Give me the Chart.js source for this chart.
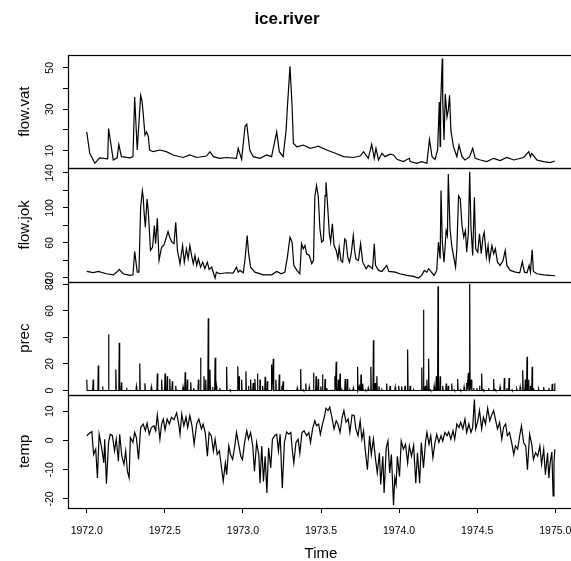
<!DOCTYPE html>
<html>
<head>
<meta charset="utf-8">
<script src="https://cdn.jsdelivr.net/npm/chart.js@4.4.1/dist/chart.umd.min.js"></script>
<style>
  html, body { margin: 0; padding: 0; background: #fff; overflow: hidden; }
  #wrap { width: 584px; height: 561px; }
</style>
</head>
<body>
<div id="wrap"><canvas id="ice" width="584" height="561"></canvas></div>
<script>
// ice.river, daily values 1972-1974. Day 0 = 1 Jan 1972.
const vatDay = [0,7,19,30,49,51,62,71,75,81,101,108,112,118,126,129,132,136,140,144,147,155,171,186,202,225,241,257,280,288,296,311,327,350,354,362,370,374,381,389,405,420,432,444,450,459,466,469,475,480,483,491,506,522,537,541,561,584,600,623,639,647,658,666,672,676,682,690,697,709,717,725,740,754,756,771,783,795,801,807,814,820,824,826,827,831,832,835,838,842,845,848,851,857,865,870,877,884,895,902,908,920,935,951,966,982,998,1021,1033,1037,1040,1052,1068,1083,1094];
const vatVal = [19.1,8.7,3.9,6.5,6.0,20.7,5.5,6.5,13.0,7.1,6.5,7.1,35.9,10.3,36.7,34.3,27.9,17.5,19.1,16.7,10.3,9.5,10.3,9.5,7.9,6.7,7.9,6.7,7.4,9.5,7.1,6.3,6.7,6.3,11.1,5.8,21.8,22.8,10.3,7.1,6.3,7.9,7.1,19.1,9.5,7.1,20.0,31.1,50.7,31.1,13.5,11.9,12.7,11.1,11.9,12.2,10.3,8.5,7.1,6.7,7.4,9.5,6.3,13.0,6.3,11.1,5.5,8.7,7.1,8.3,7.9,5.8,4.7,6.3,4.7,3.9,4.7,3.9,15.4,7.1,5.8,10.3,33.5,12.0,32.7,54.5,34.3,15.1,37.5,26.3,29.5,36.7,19.9,11.9,7.1,12.7,7.1,5.5,7.1,11.1,6.3,5.5,4.7,6.3,5.2,6.7,5.5,6.7,9.5,7.1,8.7,5.5,4.7,4.2,5.0];

const jokDay = [0,15,27,46,62,69,76,85,101,108,112,118,122,126,130,132,134,137,141,144,149,154,158,161,165,169,175,180,185,190,194,199,204,208,212,218,224,228,233,237,241,245,249,253,257,261,266,271,276,282,286,292,296,300,303,311,327,342,350,354,358,366,370,375,378,383,393,413,432,444,455,463,469,475,480,484,491,498,502,506,510,514,520,526,530,533,537,541,545,549,553,557,559,562,567,570,574,578,583,587,590,594,598,603,606,610,614,618,623,626,629,635,640,645,649,653,658,664,668,672,675,682,690,701,706,721,732,748,764,775,783,789,795,799,804,812,818,822,826,828,831,835,840,843,845,849,853,857,862,865,869,873,877,881,885,888,892,895,898,902,906,909,914,918,922,926,929,934,938,941,947,951,955,960,966,973,978,982,990,1002,1012,1018,1023,1029,1034,1037,1041,1044,1052,1068,1083,1094];
const jokVal = [27.3,26,27.3,24.7,23.4,26,29.6,24.7,22.8,23.4,50.2,26.5,26.5,100.8,119.8,112.2,95,77.9,110.3,95,51.3,55.1,79.9,59,88.2,39.9,55.1,57,64.7,73,66.5,60.8,59,83.6,51.3,36.1,57,37.9,53.2,41.8,57,45.6,36.1,45.6,34.2,41.8,32.2,37.9,30.4,37.9,29.6,32.2,25.8,19.7,26.5,24.7,25.8,25.4,32.2,26.5,28.5,25.8,41.8,68.4,49.4,32.2,26.5,23.4,23.4,27.3,24.7,26.5,43.7,66.5,60.8,34.2,28.5,24.7,59,53.2,57,47.5,45.6,36.1,40,112.2,125.5,114,76.1,60.8,62.7,114,129.3,110.3,70.4,60.8,81.8,57,51.3,41.8,55.1,39.9,37.9,64.7,62.7,43.7,37.9,47.5,68.4,51.3,41.8,39.9,59,37.9,34.2,30.4,34.2,32.2,30.4,59,34.2,28.5,27.3,34.2,27.3,26.5,24.7,22.8,21.6,19.7,22.8,28.5,26.5,30.4,27.3,22.8,28.5,60.8,41.8,119.8,60.8,37.9,74.1,68.4,138.9,76.1,57,45.6,32.2,53.2,114,110.3,79.9,66.5,74.1,49.4,72.2,141.5,77.9,45.6,112.2,53.2,49.4,70.4,47.5,66.5,72.2,43.7,57,39.9,57,47.5,53.2,37.9,34.2,39.9,51.3,34.2,28.5,26.5,25.8,38.6,26.5,25.8,34.2,26.5,52.1,27.3,24.7,23.4,22.8,22.5];

// rain days only; days not listed had no rain (0)
const precDay = [0,15,27,37,51,68,76,81,93,116,124,136,151,165,175,183,188,194,200,208,225,230,235,243,250,261,266,274,278,284,288,294,300,303,311,327,335,353,356,362,372,378,383,389,393,399,405,411,417,422,432,436,442,450,456,459,467,492,500,506,512,520,530,536,541,547,551,557,561,572,580,583,588,592,596,604,609,615,623,633,637,641,645,651,658,664,670,674,678,683,690,701,709,721,729,736,744,750,756,764,783,787,791,795,799,803,812,817,821,826,832,840,845,853,859,867,873,882,888,892,895,899,904,912,918,923,927,939,951,955,966,976,982,987,994,1005,1013,1019,1025,1029,1033,1037,1041,1044,1056,1068,1080,1088,1094];
const precVal = [8.2,8.2,18.9,3,42.4,15.8,36.1,6,2,3,20.4,5.5,2.6,12.8,8.2,12.8,10.7,8.7,6.9,3.6,2.6,13.8,8.2,6.2,1.9,8.2,24.7,10.7,8.2,54.4,15.8,2.6,24.7,3.6,1.9,17.9,0.6,18.3,10.7,8.2,14.5,3.6,8.2,5.7,8.7,12.8,8.2,3.6,10.3,6.9,19.6,23.9,8.2,12,3.6,6.9,0.6,1.9,16.3,0.6,5.2,2.6,13.3,10.7,8.7,3.1,12,8.7,1.9,0.6,10.7,21.7,8.2,12.8,0.6,8.7,8.7,0.6,1.9,17.9,3.1,12,5.2,0.6,1.9,17.9,37.9,5.7,10.7,3.1,0.6,5.2,3.6,2.6,3.6,3.1,3.6,31,3.6,0.6,17.4,60.9,3.6,8.2,23.9,0.6,3.1,10.7,78.7,10.7,3.6,5.2,3.6,5.2,0.6,8.7,0.6,2.6,5.7,13.3,80.5,8.2,1.9,1.9,3.6,12.8,0.6,1.9,8.7,0.6,2.6,9.5,1.9,9.5,0.6,1.1,2.6,15.3,8.2,25.5,8.2,3.6,17.9,1.9,1.1,2.6,1.9,5,5.5];

const tempDay = [0,7,12,16,21,25,29,34,40,42,46,51,55,60,65,69,74,77,82,87,91,95,99,102,108,112,116,121,126,132,137,141,146,151,157,161,165,171,175,179,183,188,193,198,204,210,215,218,222,227,232,236,241,246,251,257,262,268,272,277,282,286,291,296,300,305,310,314,319,324,327,332,336,341,346,350,355,360,364,369,374,378,383,388,392,397,402,405,409,413,417,421,425,430,434,439,444,448,452,457,462,467,472,477,481,484,489,494,498,503,508,514,519,523,528,533,537,542,546,551,556,559,564,568,573,578,583,587,592,597,601,606,611,615,620,625,629,634,639,643,647,651,656,661,665,670,675,679,684,687,692,695,700,704,708,712,717,720,723,726,731,735,740,745,750,754,759,764,769,773,778,782,787,792,795,800,804,809,814,818,823,828,832,837,842,846,851,856,860,865,870,874,879,884,888,893,898,902,906,909,914,918,923,927,932,937,942,946,951,955,960,965,970,974,979,983,988,993,998,1002,1007,1012,1016,1021,1026,1030,1035,1040,1044,1049,1054,1059,1063,1068,1072,1077,1080,1083,1087,1090,1092,1094];
const tempVal = [1.6,2.5,3.0,-4.8,-3.0,-12.8,2.1,-1.9,-7.7,0.4,-14.8,-0.7,2.1,1.6,-3.6,0.4,-7.1,2.1,-5.4,-8.2,-3.6,-10.5,-12.8,1.0,-0.7,2.7,1.0,-6.5,4.4,5.6,3.3,5.9,2.1,4.4,5.0,3.3,8.7,0.4,5.6,7.3,3.6,7.3,5.6,7.9,7.1,9.4,5.6,2.1,9.0,5.0,7.9,4.4,8.5,5.0,-1.3,5.6,7.3,3.9,5.6,2.7,-5.4,2.7,1.6,-3.6,0.4,-4.8,-3.6,-8.2,-14.0,-7.7,-11.7,-1.9,-4.8,-6.5,-1.9,2.7,-1.3,-5.4,-6.5,-0.7,3.3,0.4,2.7,-1.9,-10.5,-0.7,-4.8,-14.6,-1.9,-14.0,-5.4,-18.0,-2.5,-9.4,0.4,1.6,2.1,-3.6,2.1,-16.3,-0.7,2.9,2.1,2.7,-4.2,-7.7,-0.7,0.4,-4.4,2.7,3.3,1.6,2.7,-0.7,4.1,6.7,5.0,5.6,2.1,5.6,8.5,11.0,10.2,11.4,7.9,3.9,6.7,5.6,2.7,7.9,10.2,6.2,7.3,2.7,8.7,8.5,3.9,1.6,6.7,0.4,3.3,-3.6,-10.0,1.6,-4.8,0.4,-6.5,-11.1,-4.2,-15.1,-5.4,-18.0,-2.5,-0.2,-11.1,-4.8,-22.1,-12.8,-15.1,-5.4,-12.3,-0.2,-3.0,-1.3,-7.7,-1.9,-5.4,-1.7,-14.6,-4.2,-14.6,-0.7,-9.4,-0.2,2.7,-1.3,1.6,-5.9,-0.7,2.1,-0.7,1.6,-0.2,2.7,1.6,2.9,0.4,3.3,0.4,5.6,4.4,6.2,3.9,7.3,2.7,5.6,2.7,4.4,14.0,3.9,6.7,10.2,3.9,7.9,5.6,11.0,6.7,8.5,10.2,7.3,3.9,6.2,0.4,4.4,5.6,1.6,2.7,-0.7,-4.8,-1.9,-3.0,1.6,5.0,-0.7,-1.9,-10.0,2.1,-1.3,-6.5,-4.2,-5.4,-1.9,-8.2,-3.0,-11.7,-4.2,-12.8,-7.7,-4.0,-19.0,-8.0,-3.0];

// axis ticks
const xTicks = [1972, 1972.5, 1973, 1973.5, 1974, 1974.5, 1975];
const vatTicks = [10, 20, 30, 40, 50];
const vatLabels = ['10', '', '30', '', '50'];
const jokTicks = [20, 40, 60, 80, 100, 120, 140];
const jokLabels = ['20', '', '60', '', '100', '', '140'];
const precTicks = [0, 20, 40, 60, 80];
const precLabels = ['0', '20', '40', '60', '80'];
const tempTicks = [-20, -10, 0, 10];
const tempLabels = ['-20', '-10', '0', '10'];

const FONT = '"Liberation Sans", Arial, Helvetica, sans-serif';
const toYear = d => 1972 + d / 365;

function points(days, vals) {
    return days.map((d, i) => ({ x: toYear(d), y: vals[i] }));
}

// rain spikes: dry days on both sides of each listed day
function rainPoints(days, vals) {
    const out = [];
    let last = -1;
    days.forEach((d, i) => {
        if (d - 1 > last) out.push({ x: toYear(d - 1 < 0 ? 0 : d - 1), y: 0 });
        out.push({ x: toYear(d), y: vals[i] });
        const next = i + 1 < days.length ? days[i + 1] : Infinity;
        if (d + 1 < next && d + 1 <= 1094) { out.push({ x: toYear(d + 1), y: 0 }); last = d + 1; }
        else last = d;
    });
    return out;
}

function yScale(title, min, max, ticks, labels, pad) {
    return {
        type: 'linear',
        position: 'left',
        stack: 'panels',
        stackWeight: 1,
        min: min,
        max: max,
        afterBuildTicks: s => { s.ticks = ticks.map(v => ({ value: v })); },
        afterFit: s => { s.width = 68; },
        border: { display: false },
        grid: { drawOnChartArea: false, drawTicks: true, tickLength: 5, color: '#000', lineWidth: 1 },
        ticks: {
            autoSkip: false,
            minRotation: 90,
            maxRotation: 90,
            crossAlign: 'center',
            padding: pad,
            color: '#000',
            font: { family: FONT, size: 10.5 },
            callback: (v, i) => labels[i]
        },
        title: {
            display: true,
            text: title,
            color: '#000',
            font: { family: FONT, size: 15, lineHeight: 1.2 },
            padding: { top: 16, bottom: 0 }
        }
    };
}

const line = (data, axis) => ({
    data: data,
    yAxisID: axis,
    borderColor: '#000',
    borderWidth: 1.2,
    pointRadius: 0,
    tension: 0,
    fill: false
});

const framePlugin = {
    id: 'panelFrames',
    afterDatasetsDraw(chart) {
        const { ctx, chartArea } = chart;
        ctx.save();
        ctx.strokeStyle = '#000';
        ctx.lineWidth = 1.2;
        ['yVat', 'yJok', 'yPrec', 'yTemp'].forEach(id => {
            const s = chart.scales[id];
            const top = Math.round(s.top) + 0.5;
            const bottom = Math.round(s.bottom) + 0.5;
            ctx.strokeRect(Math.round(chartArea.left) + 0.5, top, chartArea.right - chartArea.left, bottom - top);
        });
        ctx.restore();
    }
};

new Chart(document.getElementById('ice'), {
    type: 'line',
    data: {
        datasets: [
            line(points(vatDay, vatVal), 'yVat'),
            line(points(jokDay, jokVal), 'yJok'),
            line(rainPoints(precDay, precVal), 'yPrec'),
            line(points(tempDay, tempVal), 'yTemp')
        ]
    },
    options: {
        responsive: false,
        animation: false,
        parsing: false,
        layout: { padding: { left: 0, right: 10, top: 0, bottom: 0 } },
        plugins: {
            legend: { display: false },
            tooltip: { enabled: false },
            title: {
                display: true,
                text: 'ice.river',
                color: '#000',
                font: { family: FONT, size: 17, weight: 'bold', lineHeight: 1.2 },
                padding: { top: 9.3, bottom: 25.3 }
            }
        },
        scales: {
            x: {
                type: 'linear',
                position: 'bottom',
                min: 1971.88,
                max: 1975.12,
                afterBuildTicks: s => { s.ticks = xTicks.map(v => ({ value: v })); },
                afterFit: s => { s.height = 53; },
                border: { display: false },
                grid: { drawOnChartArea: false, drawTicks: true, tickLength: 5, color: '#000' },
                ticks: {
                    autoSkip: false,
                    maxRotation: 0,
                    padding: 12,
                    color: '#000',
                    font: { family: FONT, size: 10.5 },
                    callback: v => v.toFixed(1)
                },
                title: {
                    display: true,
                    text: 'Time',
                    color: '#000',
                    font: { family: FONT, size: 15, lineHeight: 1 },
                    padding: { top: 0, bottom: 0 }
                }
            },
            yTemp: yScale('temp', -23.1, 15.6, tempTicks, tempLabels, 5),
            yPrec: yScale('prec', -3.2, 82.2, precTicks, precLabels, 7),
            yJok: yScale('flow.jok', 15.8, 145.4, jokTicks, jokLabels, 4),
            yVat: yScale('flow.vat', 1.5, 56.2, vatTicks, vatLabels, 7)
        }
    },
    plugins: [framePlugin]
});
</script>
</body>
</html>
